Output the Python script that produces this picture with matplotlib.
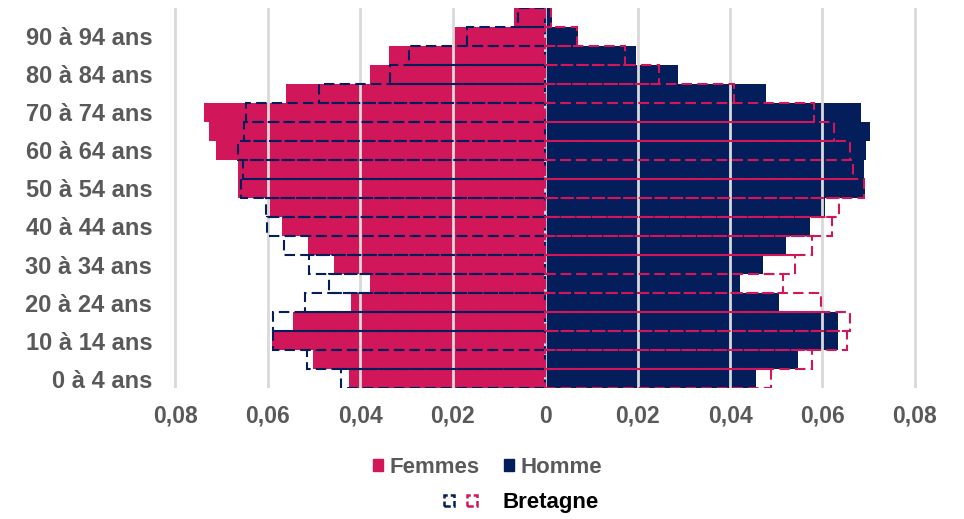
import matplotlib

matplotlib.use("Agg")

import matplotlib.pyplot as plt
from matplotlib.legend_handler import HandlerTuple
from matplotlib.patches import Patch

AGES = [
    "0 à 4 ans", "5 à 9 ans", "10 à 14 ans", "15 à 19 ans", "20 à 24 ans",
    "25 à 29 ans", "30 à 34 ans", "35 à 39 ans", "40 à 44 ans", "45 à 49 ans",
    "50 à 54 ans", "55 à 59 ans", "60 à 64 ans", "65 à 69 ans", "70 à 74 ans",
    "75 à 79 ans", "80 à 84 ans", "85 à 89 ans", "90 à 94 ans", "95 ans et plus",
]
FEMMES = [0.0425, 0.0503, 0.0590, 0.0546, 0.0420, 0.0379, 0.0456, 0.0514, 0.0569, 0.0595,
          0.0664, 0.0664, 0.0712, 0.0728, 0.0739, 0.0560, 0.0378, 0.0337, 0.0197, 0.0068]
HOMMES = [0.0456, 0.0546, 0.0634, 0.0634, 0.0505, 0.0422, 0.0472, 0.0521, 0.0572, 0.0605,
          0.0693, 0.0689, 0.0695, 0.0703, 0.0684, 0.0478, 0.0287, 0.0197, 0.0072, 0.0015]
BRETAGNE_F = [0.0442, 0.0515, 0.0589, 0.0589, 0.0519, 0.0467, 0.0510, 0.0564, 0.0602, 0.0603,
              0.0657, 0.0653, 0.0664, 0.0652, 0.0648, 0.0489, 0.0335, 0.0295, 0.0170, 0.0058]
BRETAGNE_H = [0.0489, 0.0577, 0.0652, 0.0659, 0.0596, 0.0514, 0.0540, 0.0577, 0.0621, 0.0636,
              0.0690, 0.0666, 0.0660, 0.0625, 0.0582, 0.0408, 0.0247, 0.0172, 0.0068, 0.0013]
XTICKS = [-0.08, -0.06, -0.04, -0.02, 0, 0.02, 0.04, 0.06, 0.08]
XLABELS = ["0,08", "0,06", "0,04", "0,02", "0", "0,02", "0,04", "0,06", "0,08"]

PINK = "#D1165A"
NAVY = "#041E5C"
GREY_TXT = "#595959"
GRID = "#D9D9D9"
DASH = (0, (5, 2.5))

plt.rcParams["font.family"] = ["Liberation Sans", "DejaVu Sans"]

fig = plt.figure(figsize=(9.64, 5.19), dpi=100)
ax = fig.add_axes([0.1795, 0.2524, 0.772, 0.7322])

y = list(range(len(AGES)))
ax.barh(y, [-v for v in FEMMES], height=1.0, color=PINK, zorder=1)
ax.barh(y, HOMMES, height=1.0, color=NAVY, zorder=1)

for x in XTICKS:
    ax.axvline(x, color=GRID, linewidth=2, zorder=2)

ax.barh(y, [-v for v in BRETAGNE_F], height=1.0, facecolor="none", edgecolor=NAVY,
        linewidth=1.5, linestyle=DASH, zorder=3)
ax.barh(y, BRETAGNE_H, height=1.0, facecolor="none", edgecolor=PINK,
        linewidth=1.5, linestyle=DASH, zorder=3)

ax.set_xlim(-0.0805, 0.0805)
ax.set_ylim(-0.5, len(AGES) - 0.5)
ax.set_xticks(XTICKS)
ax.set_xticklabels(XLABELS)
ax.set_yticks(y[::2])
ax.set_yticklabels(AGES[::2])
for lab in ax.get_xticklabels():
    lab.set_fontweight("bold")
    lab.set_color(GREY_TXT)
    lab.set_fontsize(16.5)
for lab in ax.get_yticklabels():
    lab.set_fontweight("bold")
    lab.set_color(GREY_TXT)
    lab.set_fontsize(17)
ax.tick_params(length=0, pad=12, axis="x")
ax.tick_params(length=0, pad=15, axis="y")
for s in ax.spines.values():
    s.set_visible(False)

leg1 = fig.legend(
    handles=[Patch(color=PINK), Patch(color=NAVY)],
    labels=["Femmes", "Homme"],
    loc="center", bbox_to_anchor=(0.506, 0.100), ncol=2, frameon=False,
    handlelength=0.45, handleheight=0.45, handletextpad=0.3, columnspacing=1.1,
    borderpad=0, prop={"weight": "bold", "size": 16},
)
for t in leg1.get_texts():
    t.set_color(GREY_TXT)

small_dash = (0, (2.5, 1.2))
bret = (Patch(facecolor="none", edgecolor=NAVY, linewidth=1.8, linestyle=small_dash),
        Patch(facecolor="none", edgecolor=PINK, linewidth=1.8, linestyle=small_dash))
leg2 = fig.legend(
    handles=[bret], labels=["Bretagne"],
    handler_map={tuple: HandlerTuple(ndivide=None, pad=0.6)},
    loc="center", bbox_to_anchor=(0.541, 0.031), frameon=False,
    handlelength=1.5, handleheight=0.4, handletextpad=1.15,
    borderpad=0, prop={"weight": "bold", "size": 16},
)

fig.savefig("out.png", dpi=100)
